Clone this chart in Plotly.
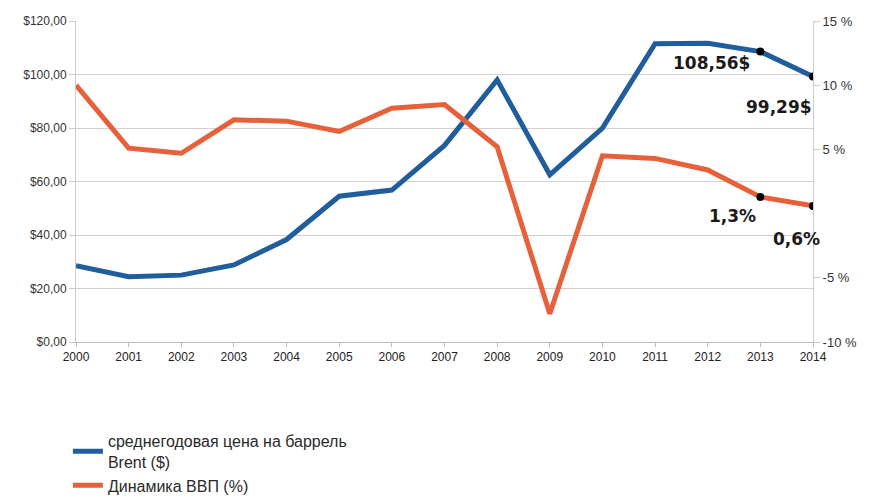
import plotly.graph_objects as go

years = list(range(2000, 2015))
brent = [28.5, 24.4, 25.0, 28.8, 38.3, 54.5, 56.8, 73.5, 98.0, 62.5, 80.0, 111.5, 111.7, 108.56, 99.29]
gdp = [10.0, 5.1, 4.7, 7.3, 7.2, 6.4, 8.2, 8.5, 5.2, -7.8, 4.5, 4.3, 3.4, 1.3, 0.6]

left_vals = [0, 20, 40, 60, 80, 100, 120]
left_text = ["$0,00", "$20,00", "$40,00", "$60,00", "$80,00", "$100,00", "$120,00"]
right_vals = [-10, -5, 5, 10, 15]
right_text = ["-10 %", "-5 %", "5 %", "10 %", "15 %"]

name_brent = "среднегодовая цена на баррель<br>Brent ($)"
name_gdp = "Динамика ВВП (%)"
labels = [("108,56$", 2013, brent[13], "y", -49, -11),
          ("99,29$", 2014, brent[14], "y", -34, -31),
          ("1,3%", 2013, gdp[13], "y2", -28, -19),
          ("0,6%", 2014, gdp[14], "y2", -17, -33)]

blue = "#1f5d9c"
orange = "#e6603a"

fig = go.Figure()
fig.add_trace(go.Scatter(x=years, y=brent, name=name_brent, mode="lines",
                         line=dict(color=blue, width=5), yaxis="y"))
fig.add_trace(go.Scatter(x=years, y=gdp, name=name_gdp, mode="lines",
                         line=dict(color=orange, width=5), yaxis="y2"))
fig.add_trace(go.Scatter(x=years[13:], y=brent[13:], mode="markers", showlegend=False,
                         marker=dict(color="black", size=8), yaxis="y"))
fig.add_trace(go.Scatter(x=years[13:], y=gdp[13:], mode="markers", showlegend=False,
                         marker=dict(color="black", size=8), yaxis="y2"))

for txt, xv, yv, yref, ax, ay in labels:
    fig.add_annotation(x=xv, y=yv, xref="x", yref=yref, text="<b>" + txt + "</b>",
                       showarrow=False, xshift=ax, yshift=ay,
                       font=dict(size=17, color="#1a1a1a", family="DejaVu Sans"))

fig.update_layout(
    width=871, height=501,
    margin=dict(l=68, r=66, t=13, b=167, autoexpand=False),
    paper_bgcolor="white", plot_bgcolor="white",
    font=dict(family="Liberation Sans, Arial", size=12, color="#333"),
    xaxis=dict(range=[2000, 2014], tickvals=years, showgrid=False, automargin=False,
               showline=True, linecolor="#bbb", ticks="outside", tickcolor="#bbb",
               ticklen=4, tickfont=dict(size=12, color="#222"), zeroline=False),
    yaxis=dict(range=[0, 120], tickvals=left_vals, ticktext=left_text, automargin=False,
               showgrid=True, gridcolor="#d9d0cc", gridwidth=1, zeroline=False,
               tickfont=dict(size=12, color="#333"), showline=True, linecolor="#ccc",
               ticks="outside", tickcolor="#ccc", ticklen=6),
    yaxis2=dict(range=[-10, 15], overlaying="y", side="right", tickvals=right_vals,
                ticktext=right_text, showgrid=False, zeroline=False, automargin=False,
                showline=True, linecolor="#ccc", ticks="outside", tickcolor="#ccc", ticklen=6,
                tickfont=dict(size=13, color="#333")),
    legend=dict(x=-0.011, y=-0.255, xanchor="left", yanchor="top",
                font=dict(size=16, color="#2a2a2a"), tracegroupgap=2,
                itemwidth=30, bgcolor="rgba(0,0,0,0)"),
    showlegend=True,
)

fig.write_html("out.html")
